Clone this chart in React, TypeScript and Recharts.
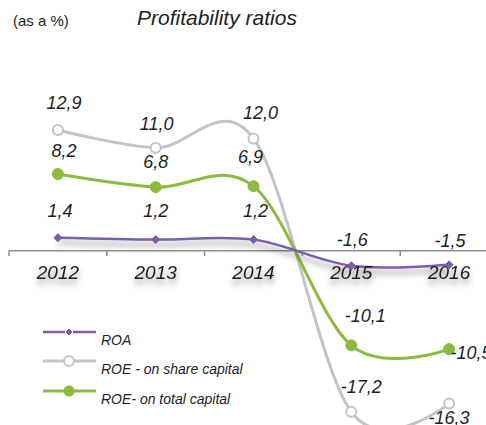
import React from "react";
import {
  Legend,
  LabelList,
  Line,
  LineChart,
  ReferenceDot,
  ReferenceLine,
  XAxis,
  YAxis,
} from "recharts";

const years = ["2012", "2013", "2014", "2015", "2016"];
const roa = [1.4, 1.2, 1.2, -1.6, -1.5];
const roeShare = [12.9, 11.0, 12.0, -17.2, -16.3];
const roeTotal = [8.2, 6.8, 6.9, -10.1, -10.5];

const PURPLE = "#7b5ea7";
const GRAY = "#c3c3c8";
const GREEN = "#8cbb3f";
const AXIS = "#8e8e8e";
const FONT = "'Liberation Sans', Arial, sans-serif";

// where each value label sits relative to its point: [dx, dy to baseline]
const labelOffsets: Record<string, number[][]> = {
  roeShare: [[6, -21], [1, -18], [7, -19], [10, -19], [0, 21]],
  roeTotal: [[6, -17], [0, -19], [-3, -23], [14, -23], [22, 10]],
  roa: [[2, -21], [0, -23], [2, -23], [1, -20], [1, -18]],
};

const series = [
  { key: "roa", name: "ROA", color: PURPLE, marker: "diamond" },
  { key: "roeShare", name: "ROE - on share capital", color: GRAY, marker: "hollow" },
  { key: "roeTotal", name: "ROE- on total capital", color: GREEN, marker: "filled" },
];

const values: Record<string, number[]> = { roa, roeShare, roeTotal };

const data = years.map((year, i) => ({
  year,
  idx: i,
  roa: roa[i],
  roeShare: roeShare[i],
  roeTotal: roeTotal[i],
}));

const boundaries = [-0.5, 0.5, 1.5, 2.5, 3.5, 4.5];

const fmt = (v: number) => v.toFixed(1).replace(".", ",");

// Excel-like smoothed line (Catmull-Rom / cardinal with tension 0)
function catmullRom(context: any) {
  const k = 1 / 6;
  let x0 = NaN, x1 = NaN, x2 = NaN, y0 = NaN, y1 = NaN, y2 = NaN;
  let pt = 0;
  const seg = (x: number, y: number) => {
    context.bezierCurveTo(
      x1 + k * (x2 - x0),
      y1 + k * (y2 - y0),
      x2 + k * (x1 - x),
      y2 + k * (y1 - y),
      x2,
      y2
    );
  };
  return {
    areaStart() {},
    areaEnd() {},
    lineStart() {
      x0 = x1 = x2 = y0 = y1 = y2 = NaN;
      pt = 0;
    },
    lineEnd() {
      if (pt === 2) context.lineTo(x2, y2);
      else if (pt === 3) seg(x1, y1);
    },
    point(x: number, y: number) {
      x = +x;
      y = +y;
      switch (pt) {
        case 0:
          pt = 1;
          context.moveTo(x, y);
          break;
        case 1:
          pt = 2;
          x1 = x;
          y1 = y;
          break;
        case 2:
          pt = 3;
          seg(x, y);
          break;
        default:
          seg(x, y);
          break;
      }
      x0 = x1; x1 = x2; x2 = x;
      y0 = y1; y1 = y2; y2 = y;
    },
  };
}

function Diamond(props: any) {
  const { cx, cy } = props;
  if (cx == null || cy == null) return null;
  const s = 4;
  return (
    <path
      d={`M${cx},${cy - s}L${cx + s},${cy}L${cx},${cy + s}L${cx - s},${cy}Z`}
      fill={PURPLE}
      stroke={PURPLE}
      strokeWidth={1}
    />
  );
}

function makeLabel(key: string) {
  return (props: any) => {
    const { x, y, value } = props;
    let index = props.index;
    if (index == null) index = values[key].indexOf(Number(value));
    const [dx, dy] = labelOffsets[key][index] || [0, -20];
    return (
      <text
        x={Number(x) + dx}
        y={Number(y) + dy}
        textAnchor="middle"
        fontFamily={FONT}
        fontStyle="italic"
        fontSize={18}
        fill="#1e1e1e"
      >
        {fmt(Number(value))}
      </text>
    );
  };
}

function YearLabel(props: any) {
  const vb = props.viewBox || {};
  return (
    <text
      x={vb.x + (vb.width || 0) / 2}
      y={vb.y + 28}
      textAnchor="middle"
      fontFamily={FONT}
      fontStyle="italic"
      fontSize={19}
      fill="#1e1e1e"
      filter="url(#soft)"
    >
      {props.value}
    </text>
  );
}

function LegendBox() {
  const rows = [12, 41, 71];
  return (
    <svg width={260} height={95}>
      {series.map((s, i) => {
        const y = rows[i];
        return (
          <g key={s.key}>
            <line x1={3} x2={56} y1={y} y2={y} stroke={s.color} strokeWidth={s.marker === "diamond" ? 2.5 : 3} />
            {s.marker === "diamond" && (
              <path d={`M29,${y - 4}L33,${y}L29,${y + 4}L25,${y}Z`} fill={s.color} stroke="#fff" strokeWidth={1} />
            )}
            {s.marker === "hollow" && (
              <circle cx={29} cy={y} r={5} fill="#fff" stroke={s.color} strokeWidth={2} />
            )}
            {s.marker === "filled" && <circle cx={29} cy={y} r={5.5} fill={s.color} />}
            <text
              x={61}
              y={y + 13}
              fontFamily={FONT}
              fontStyle="italic"
              fontSize={14}
              fill="#1e1e1e"
            >
              {s.name}
            </text>
          </g>
        );
      })}
    </svg>
  );
}

export default function App() {
  return (
    <div
      style={{
        position: "absolute",
        left: 0,
        top: 0,
        width: 486,
        height: 425,
        overflow: "hidden",
        background: "#fff",
      }}
    >
      <div
        style={{
          position: "absolute",
          left: 13,
          top: 12,
          fontFamily: FONT,
          fontSize: 15,
          color: "#1e1e1e",
          zIndex: 2,
        }}
      >
        (as a %)
      </div>
      <div
        style={{
          position: "absolute",
          left: 137,
          top: 6,
          fontFamily: FONT,
          fontStyle: "italic",
          fontSize: 21,
          color: "#1e1e1e",
          zIndex: 2,
        }}
      >
        Profitability ratios
      </div>
      <LineChart
        width={520}
        height={425}
        data={data}
        margin={{ top: 101, right: 22, bottom: 1, left: 9 }}
      >
        <defs>
          <filter id="soft" x="-30%" y="-60%" width="160%" height="300%">
            <feDropShadow dx="0" dy="5" stdDeviation="3" floodColor="#000" floodOpacity="0.45" />
          </filter>
        </defs>
        <XAxis type="number" dataKey="idx" domain={[-0.5, 4.5]} hide />
        <YAxis type="number" domain={[-18.5, 16]} hide />
        <ReferenceLine y={0} stroke={AXIS} strokeWidth={1.5} />
        {boundaries.map((b) => (
          <ReferenceLine
            key={b}
            segment={[
              { x: b, y: 0 },
              { x: b, y: -0.55 },
            ]}
            stroke={AXIS}
            strokeWidth={1.5}
          />
        ))}
        <Line
          dataKey="roeShare"
          name="ROE - on share capital"
          type={catmullRom as any}
          stroke={GRAY}
          strokeWidth={3}
          dot={{ r: 5, fill: "#fff", stroke: GRAY, strokeWidth: 2 }}
          isAnimationActive={false}
        >
          <LabelList dataKey="roeShare" content={makeLabel("roeShare")} />
        </Line>
        <Line
          dataKey="roeTotal"
          name="ROE- on total capital"
          type={catmullRom as any}
          stroke={GREEN}
          strokeWidth={3}
          dot={{ r: 5.5, fill: GREEN, stroke: GREEN, strokeWidth: 1 }}
          isAnimationActive={false}
        >
          <LabelList dataKey="roeTotal" content={makeLabel("roeTotal")} />
        </Line>
        <Line
          dataKey="roa"
          name="ROA"
          type={catmullRom as any}
          stroke={PURPLE}
          strokeWidth={2.5}
          dot={<Diamond />}
          filter="url(#soft)"
          isAnimationActive={false}
        >
          <LabelList dataKey="roa" content={makeLabel("roa")} />
        </Line>
        {years.map((year, i) => (
          <ReferenceDot
            key={year}
            x={i}
            y={0}
            r={0}
            fill="none"
            stroke="none"
            label={(p: any) => <YearLabel {...p} value={year} />}
          />
        ))}
        <Legend
          layout="vertical"
          align="center"
          verticalAlign="middle"
          content={() => <LegendBox />}
          wrapperStyle={{ left: 40, top: 320, width: 260, height: 95 }}
        />
      </LineChart>
    </div>
  );
}
